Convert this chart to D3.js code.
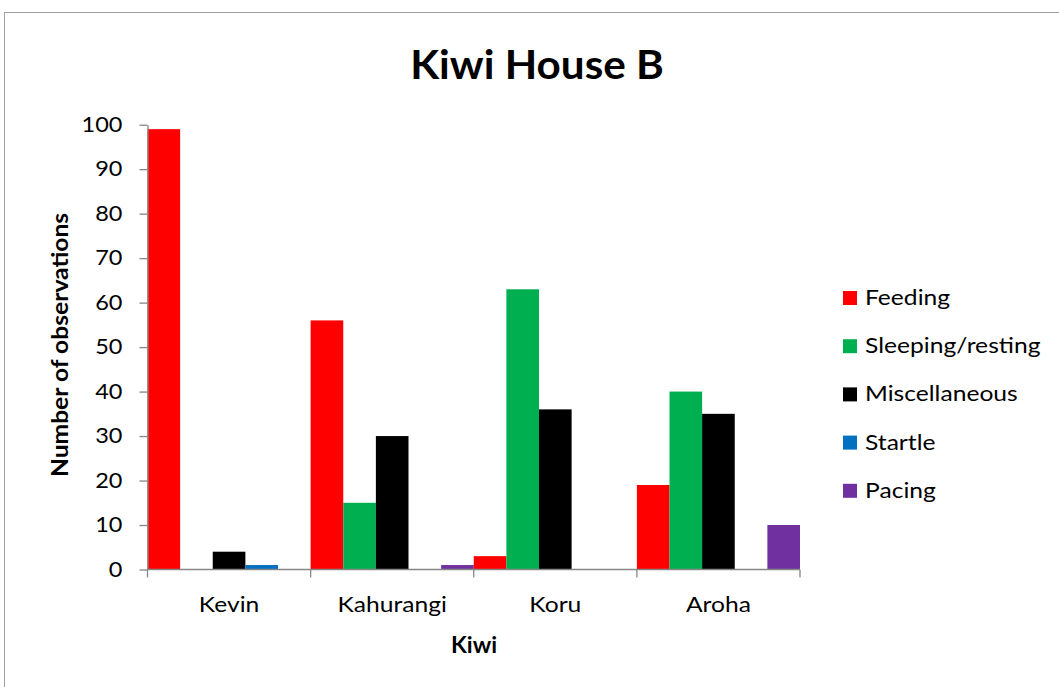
<!DOCTYPE html>
<html>
<head>
<meta charset="utf-8">
<script src="https://cdn.jsdelivr.net/npm/d3@7"></script>
<style>
  html, body { margin: 0; padding: 0; background: #fff; }
  svg { display: block; }
  text { font-family: Lato, "Open Sans", sans-serif; fill: #000; }
</style>
</head>
<body>
<svg id="chart" width="1059" height="687"></svg>
<script>
const categories = ["Kevin", "Kahurangi", "Koru", "Aroha"];
const seriesNames = ["Feeding", "Sleeping/resting", "Miscellaneous", "Startle", "Pacing"];
const feeding   = [99, 56, 3, 19];
const sleeping  = [0, 15, 63, 40];
const misc      = [4, 30, 36, 35];
const startle   = [1, 0, 0, 0];
const pacing    = [0, 1, 0, 10];
const yTicks = [0, 10, 20, 30, 40, 50, 60, 70, 80, 90, 100];
const colors = ["#FF0000", "#00B050", "#000000", "#0070C0", "#7030A0"];

const seriesValues = [feeding, sleeping, misc, startle, pacing];
const data = categories.map((c, i) => ({
  category: c,
  values: seriesNames.map((s, j) => ({ series: s, value: seriesValues[j][i] }))
}));

const STRETCH = 1.12; // horizontal widening to mimic the reference's font widths

const svg = d3.select("#chart");

// chart area border
svg.append("rect")
  .attr("x", 4.5).attr("y", 12.5)
  .attr("width", 1200).attr("height", 800)
  .attr("fill", "none").attr("stroke", "#a0a0a0").attr("stroke-width", 1);

const plot = { left: 147.5, right: 800, top: 124.7, bottom: 569.5 };

const x0 = d3.scaleBand().domain(categories).range([plot.left, plot.right]).paddingInner(0).paddingOuter(0);
const x1 = d3.scaleBand().domain(seriesNames).range([0, x0.bandwidth()]).padding(0);
const y = d3.scaleLinear().domain([0, 100]).range([plot.bottom, plot.top]);
const color = d3.scaleOrdinal().domain(seriesNames).range(colors);

// bars
const groups = svg.append("g").selectAll("g")
  .data(data).join("g")
  .attr("transform", d => `translate(${x0(d.category)},0)`);
groups.selectAll("rect")
  .data(d => d.values.filter(v => v.value > 0)).join("rect")
  .attr("x", d => x1(d.series))
  .attr("width", x1.bandwidth())
  .attr("y", d => y(d.value))
  .attr("height", d => y(0) - y(d.value))
  .attr("fill", d => color(d.series));

const axisColor = "#868686";

// y axis
const yAxis = svg.append("g")
  .attr("transform", `translate(${plot.left},0)`)
  .call(d3.axisLeft(y).tickValues(yTicks).tickSize(8).tickPadding(17).tickSizeOuter(0));
yAxis.select(".domain").attr("stroke", axisColor).attr("stroke-width", 1.3);
yAxis.selectAll(".tick line").attr("stroke", axisColor).attr("stroke-width", 1.3);
yAxis.selectAll(".tick text")
  .attr("font-size", 21).attr("font-family", "Lato").attr("fill", "#000")
  .attr("x", null)
  .attr("transform", `translate(-25,0) scale(${STRETCH},1)`);

// x axis
const xAxisG = svg.append("g").attr("transform", `translate(0,${plot.bottom})`);
xAxisG.append("line")
  .attr("x1", plot.left).attr("x2", plot.right)
  .attr("stroke", axisColor).attr("stroke-width", 1.3);
const boundaries = categories.map(c => x0(c)).concat([x0(categories[categories.length - 1]) + x0.bandwidth()]);
xAxisG.selectAll("line.tk").data(boundaries).join("line")
  .attr("class", "tk")
  .attr("x1", d => d).attr("x2", d => d)
  .attr("y1", 0).attr("y2", 8)
  .attr("stroke", axisColor).attr("stroke-width", 1.3);
xAxisG.selectAll("text.lbl").data(categories).join("text")
  .attr("class", "lbl")
  .attr("transform", d => `translate(${x0(d) + x0.bandwidth() / 2},42.5) scale(${STRETCH},1)`)
  .attr("text-anchor", "middle")
  .attr("font-size", 22)
  .text(d => d);

// title
svg.append("text")
  .attr("transform", "translate(537,79) scale(1.03,1)")
  .attr("text-anchor", "middle")
  .attr("font-size", 41).attr("font-weight", "bold")
  .text("Kiwi House B");

// axis titles
svg.append("text")
  .attr("transform", "translate(474,653) scale(1.05,1)")
  .attr("text-anchor", "middle")
  .attr("font-size", 22).attr("font-weight", "bold")
  .text("Kiwi");

svg.append("text")
  .attr("transform", `translate(68,345) rotate(-90) scale(${STRETCH},1)`)
  .attr("text-anchor", "middle")
  .attr("font-size", 22).attr("font-weight", "bold")
  .text("Number of observations");

// legend
const legend = svg.append("g").attr("transform", "translate(843,305)");
const items = legend.selectAll("g").data(seriesNames).join("g")
  .attr("transform", (d, i) => `translate(0,${i * 48.2})`);
items.append("rect")
  .attr("x", 0).attr("y", -14).attr("width", 14).attr("height", 14)
  .attr("fill", d => color(d));
items.append("text")
  .attr("transform", `translate(22,0) scale(${STRETCH},1)`)
  .attr("font-size", 22)
  .text(d => d);
</script>
</body>
</html>
